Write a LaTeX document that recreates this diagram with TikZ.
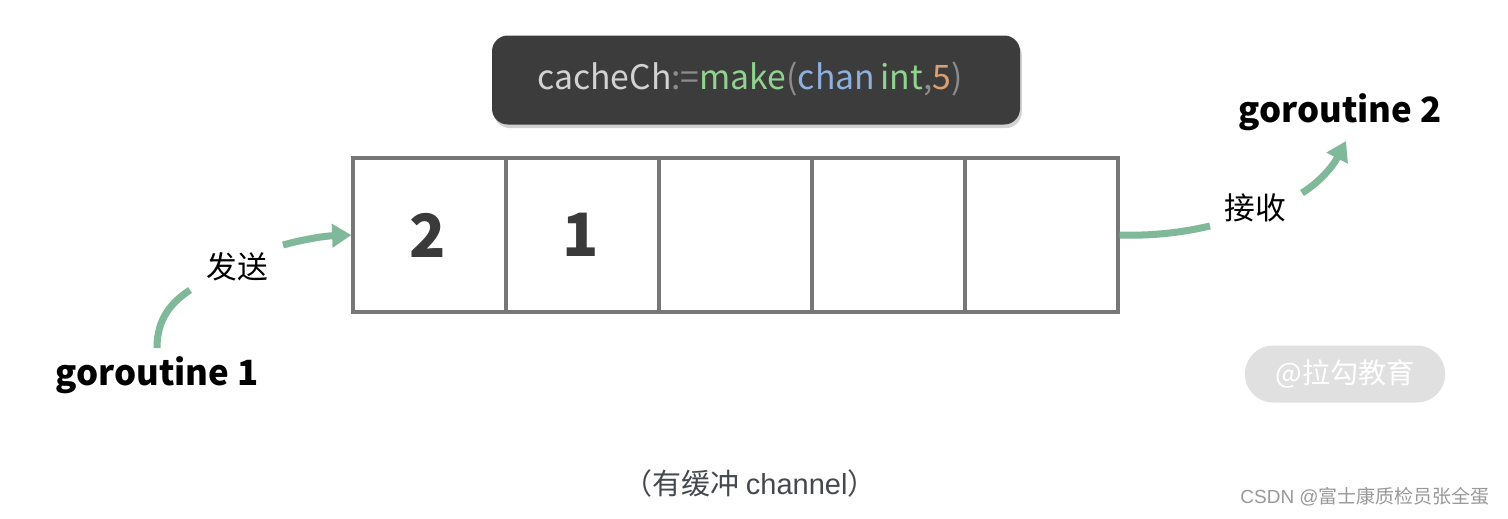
\documentclass[tikz,border=0pt]{standalone}
\usepackage{fontspec}
\setmainfont{Noto Sans CJK SC}
\newfontfamily\cjk{Noto Sans CJK SC}
\newfontfamily\latin{Liberation Sans}
\usetikzlibrary{arrows.meta,shadows}
\definecolor{codebg}{HTML}{3C3C3C}
\definecolor{cgray}{HTML}{D2D2D2}
\definecolor{cop}{HTML}{8C8C8C}
\definecolor{cgreen}{HTML}{8FD38F}
\definecolor{cblue}{HTML}{8DB0DE}
\definecolor{corange}{HTML}{D9A173}
\definecolor{cellline}{HTML}{777777}
\definecolor{arrowgreen}{HTML}{80B89A}
\definecolor{numcol}{HTML}{3A3A3A}
\definecolor{capcol}{HTML}{45484D}
\newlength{\pxu}\setlength{\pxu}{0.02cm}
\tikzset{
  cellbox/.style={draw=cellline, line width=1.8pt, minimum width=153\pxu, minimum height=154\pxu, inner sep=0pt},
  numtxt/.style={font=\fontsize{34}{40}\selectfont\bfseries, text=numcol},
  gortxt/.style={font=\fontsize{19.8}{24}\selectfont\bfseries, text=black},
  lbltxt/.style={font=\fontsize{17.5}{21}\selectfont, text=black},
  flow/.style={draw=arrowgreen, line width=4pt},
  flowarrow/.style={flow, -{Triangle[length=11pt,width=13pt]}},
}
\begin{document}
\begin{tikzpicture}[x=0.02cm,y=-0.02cm]
\useasboundingbox[fill=white] (0,0) rectangle (1508,518);
% code box
\node[fill=codebg, rounded corners=9pt, minimum width=528\pxu, minimum height=89\pxu,
  drop shadow={opacity=0.35, shadow xshift=1pt, shadow yshift=-2pt}] (code) at (756,80) {};
\node[font=\fontsize{19.2}{24}\selectfont, inner sep=0pt] (codetxt) at (750,79)
 {\textcolor{cgray}{cacheCh}\textcolor{cop}{:=}\textcolor{cgreen}{make}\textcolor{cop}{(}\textcolor{cblue}{chan}\,\textcolor{cgreen}{int}\textcolor{cop}{,}\textcolor{corange}{5}\textcolor{cop}{)}};
% cells
\node[cellbox] (c1) at (429.5,235) {};
\node[cellbox] (c2) at (582.5,235) {};
\node[cellbox] (c3) at (735.5,235) {};
\node[cellbox] (c4) at (888.5,235) {};
\node[cellbox] (c5) at (1041.5,235) {};
\node[numtxt] (n2) at (428,235) {2};
\node[numtxt] (n1) at (581,235) {1};
% labels
\node[gortxt] (g1) at (157,375) {goroutine 1};
\node[gortxt] (g2) at (1340,112) {goroutine 2};
\node[lbltxt] (send) at (237,267) {发送};
\node[lbltxt] (recv) at (1255,208) {接收};
% connectors
\coordinate (s1a) at (157,348);
\coordinate (s1b) at (190,290);
\coordinate (s2a) at (283,245);
\coordinate (r1b) at (1210,226);
\coordinate (r2a) at (1302,193);
\coordinate (r2b) at (1346,141);
\draw[flow] (s1a) .. controls (157,318) and (172,302) .. (s1b);
\draw[flowarrow] (s2a) .. controls (305,239) and (325,236) .. (c1.west);
\draw[flow] (c5.east) .. controls (1150,236) and (1180,233) .. (r1b);
\draw[flowarrow] (r2a) .. controls (1318,183) and (1332,168) .. (r2b);
% watermark
\node[fill=black!12, rounded corners=28\pxu, minimum width=200\pxu, minimum height=57\pxu, text=white,
  font=\fontsize{16}{20}\selectfont] (wm) at (1345,374) {@拉勾教育};
% caption
\node[font=\fontsize{16.5}{20}\selectfont, text=capcol] (cap) at (750,483) {（有缓冲 {\latin channel}）};
\node[font=\fontsize{10.8}{12}\selectfont, text=black!40] (csdn) at (1365,497) {{\latin CSDN @}富士康质检员张全蛋};
\end{tikzpicture}
\end{document}
